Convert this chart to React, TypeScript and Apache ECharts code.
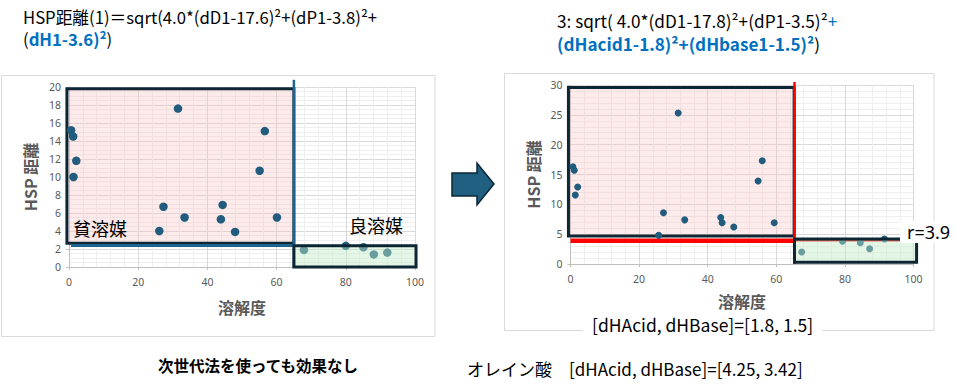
import React, { useEffect, useRef } from "react";
import * as echarts from "echarts";

// Solvent screening: HSP distance vs. solubility, original and extended (acid/base split) formulas
const solubility1 = [0.6, 1.2, 2.1, 1.3, 31.5, 27.3, 33.4, 26.1, 44.4, 43.9, 48.0, 56.6, 55.1, 60.1, 67.9, 80.0, 85.1, 88.1, 92.0];
const hspDistance1 = [15.2, 14.5, 11.8, 10.0, 17.6, 6.7, 5.5, 4.0, 6.9, 5.3, 3.9, 15.1, 10.7, 5.5, 1.9, 2.35, 2.2, 1.4, 1.6];

const solubility2 = [0.7, 1.1, 2.1, 1.4, 31.4, 27.1, 33.3, 25.7, 43.8, 44.2, 47.6, 55.9, 54.7, 59.4, 67.4, 79.3, 84.5, 87.2, 91.5];
const hspDistance2 = [16.3, 15.7, 12.9, 11.55, 25.3, 8.6, 7.4, 4.8, 7.8, 6.9, 6.2, 17.3, 13.9, 6.9, 2.0, 3.8, 3.55, 2.55, 4.2];

// Region boxes in data units: [xMin, yMin, xMax, yMax]
const poorBox1 = [-0.6, 2.65, 65, 19.8];
const goodBox1 = [65, 0, 100.3, 2.37];
const cutoff1 = 65;
const radius1 = 2.4;

const poorBox2 = [-0.6, 4.7, 65.2, 29.6];
const goodBox2 = [65.3, 0.3, 100.9, 4.2];
const cutoff2 = 65.3;
const radius2 = 3.9;

const xTitle = "溶解度";
const yTitle = "HSP 距離";

const W = 955;
const H = 392;
const JP = '"Noto Sans CJK JP", "Noto Sans", sans-serif';
const GRAY = "#595959";
const NAVY = "#0c2634";
const BLUE = "#0070C0";

function xAxisFor(gridIndex: number, nameGap: number) {
  return {
    type: "value" as const,
    gridIndex,
    min: 0,
    max: 100,
    interval: 20,
    name: xTitle,
    nameLocation: "middle" as const,
    nameGap,
    nameTextStyle: { fontFamily: JP, fontWeight: "bold" as const, fontSize: 16, color: GRAY, verticalAlign: "top" as const },
    axisLine: { show: true, onZero: false, lineStyle: { color: "#bfbfbf" } },
    axisTick: { show: true, length: 3, lineStyle: { color: "#bfbfbf" } },
    axisLabel: { color: GRAY, fontSize: 10.5, fontFamily: "Noto Sans", margin: 9 },
    splitLine: { show: true, lineStyle: { color: "#d9d9d9", width: 1 } },
    minorTick: { show: false, splitNumber: 5 },
    minorSplitLine: { show: true, lineStyle: { color: "#eeeeee", width: 1 } },
  };
}

function yAxisFor(gridIndex: number, max: number, interval: number, minorSplit: number, nameGap: number) {
  return {
    type: "value" as const,
    gridIndex,
    min: 0,
    max,
    interval,
    name: yTitle,
    nameLocation: "middle" as const,
    nameGap,
    nameTextStyle: { fontFamily: JP, fontWeight: "bold" as const, fontSize: 16, color: GRAY },
    axisLine: { show: true, lineStyle: { color: "#bfbfbf" } },
    axisTick: { show: true, length: 3, lineStyle: { color: "#bfbfbf" } },
    axisLabel: { color: GRAY, fontSize: 10.5, fontFamily: "Noto Sans", margin: 8 },
    splitLine: { show: true, lineStyle: { color: "#d9d9d9", width: 1 } },
    minorTick: { show: false, splitNumber: minorSplit },
    minorSplitLine: { show: true, lineStyle: { color: "#eeeeee", width: 1 } },
  };
}

export default function App() {
  const ref = useRef<HTMLDivElement>(null);

  useEffect(() => {
    const chart = echarts.init(ref.current!, null, { renderer: "svg", width: W, height: H });

    chart.setOption({
      animation: false,
      backgroundColor: "#ffffff",
      grid: [
        { left: 69, top: 87, width: 346, height: 180 },
        { left: 570.5, top: 85, width: 343, height: 179 },
      ],
      xAxis: [xAxisFor(0, 32), xAxisFor(1, 29)],
      yAxis: [yAxisFor(0, 20, 2, 4, 31), yAxisFor(1, 30, 5, 5, 30)],
      series: [
        {
          type: "scatter",
          xAxisIndex: 0,
          yAxisIndex: 0,
          z: 2,
          symbolSize: 8.5,
          itemStyle: { color: "#215b7d", opacity: 1 },
          data: solubility1.map((x, i) => [x, hspDistance1[i]]),
        },
        {
          type: "scatter",
          xAxisIndex: 1,
          yAxisIndex: 1,
          z: 2,
          symbolSize: 7,
          itemStyle: { color: "#215b7d", opacity: 1 },
          data: solubility2.map((x, i) => [x, hspDistance2[i]]),
        },
      ],
    });

    const px = (g: number, x: number, y: number) =>
      chart.convertToPixel({ gridIndex: g }, [x, y]) as number[];

    const box = (g: number, b: number[], fill: string, z: number) => {
      const [x0, y0] = px(g, b[0], b[3]);
      const [x1, y1] = px(g, b[2], b[1]);
      return {
        type: "rect",
        z,
        silent: true,
        shape: { x: x0, y: y0, width: x1 - x0, height: y1 - y0 },
        style: { fill, stroke: NAVY, lineWidth: 3 },
      };
    };

    const seg = (g: number, a: number[], b: number[], stroke: string, lineWidth: number, z: number) => {
      const [x1, y1] = px(g, a[0], a[1]);
      const [x2, y2] = px(g, b[0], b[1]);
      return { type: "line", z, silent: true, shape: { x1, y1, x2, y2 }, style: { stroke, lineWidth } };
    };

    const text = (x: number, y: number, t: string, opts: any = {}, z = 6) => ({
      type: "text",
      z,
      x,
      y,
      silent: true,
      style: {
        text: t,
        fill: "#000",
        fontFamily: JP,
        fontSize: 17,
        align: "left",
        verticalAlign: "middle",
        ...opts,
      },
    });

    const rich = (size: number) => ({
      k: { fill: "#000000", fontFamily: JP, fontSize: size, lineHeight: 19 },
      b: { fill: BLUE, fontFamily: JP, fontSize: size, fontWeight: "bold", lineHeight: 19 },
      c: { fill: BLUE, fontFamily: JP, fontSize: size, lineHeight: 19 },
    });

    chart.setOption({
      graphic: [
        // panel frames
        { type: "rect", z: 0, silent: true, shape: { x: 1.5, y: 75.5, width: 433.5, height: 261 }, style: { fill: "none", stroke: "#d9d9d9", lineWidth: 1 } },
        { type: "rect", z: 0, silent: true, shape: { x: 504.5, y: 73.5, width: 429.5, height: 257 }, style: { fill: "none", stroke: "#d9d9d9", lineWidth: 1 } },

        // left chart regions
        box(0, poorBox1, "rgba(248,196,196,0.35)", 1),
        seg(0, [cutoff1, 20.8], [cutoff1, 0], "#1f6391", 2.5, 1),
        seg(0, [0.6, radius1], [cutoff1, radius1], "#1f6391", 3, 1),
        box(0, goodBox1, "rgba(196,238,200,0.45)", 3),

        // right chart regions
        box(1, poorBox2, "rgba(248,196,196,0.35)", 1),
        seg(1, [0, radius2], [cutoff2, radius2], "#ff0000", 4.5, 1),
        seg(1, [cutoff2, radius2], [100, radius2], "#ff0000", 1.5, 1),
        seg(1, [cutoff2, 30.5], [cutoff2, 0], "#ff0000", 2.5, 1),
        box(1, goodBox2, "rgba(196,238,200,0.45)", 3),

        // region labels
        text(73, 228, "貧溶媒", { fontSize: 18 }),
        text(349, 225, "良溶媒", { fontSize: 18 }),
        text(900, 232, "r=3.9", { fontFamily: "Noto Sans", fontSize: 18, backgroundColor: "#ffffff", padding: [2, 4, 2, 7] }),

        // arrow between the panels
        {
          type: "polygon",
          z: 2,
          silent: true,
          shape: { points: [[452, 173], [477, 173], [477, 163], [494, 184], [477, 205], [477, 196], [452, 196]] },
          style: { fill: "#1f5f7f", stroke: NAVY, lineWidth: 1.5 },
        },

        // formulas
        text(23, 16.5, "{k|HSP距離(1)＝sqrt(4.0*(dD1-17.6)²+(dP1-3.8)²+}", { rich: rich(16.7) }),
        text(23, 38.5, "{k|(}{b|dH1-3.6)²}{k|)}", { rich: rich(16.7) }),
        text(557, 20.5, "{k|3: sqrt( 4.0*(dD1-17.8)²+(dP1-3.5)²}{c|+}", { rich: rich(17.2) }),
        text(557, 43.5, "{b|(dHacid1-1.8)²+(dHbase1-1.5)²}{k|)}", { rich: rich(17.1) }),

        // captions
        text(583, 324, "[dHAcid, dHBase]=[1.8, 1.5]", { fontSize: 17.5, backgroundColor: "#ffffff", padding: [0, 9, 0, 9] }),
        text(258, 365, "次世代法を使っても効果なし", { fontSize: 15.5, fontWeight: "bold", align: "center" }),
        text(467, 368, "オレイン酸　[dHAcid, dHBase]=[4.25, 3.42]", { fontSize: 17 }),
      ],
    });

    return () => chart.dispose();
  }, []);

  return (
    <div
      ref={ref}
      style={{ position: "fixed", left: 0, top: 0, width: W, height: H, background: "#ffffff" }}
    />
  );
}
